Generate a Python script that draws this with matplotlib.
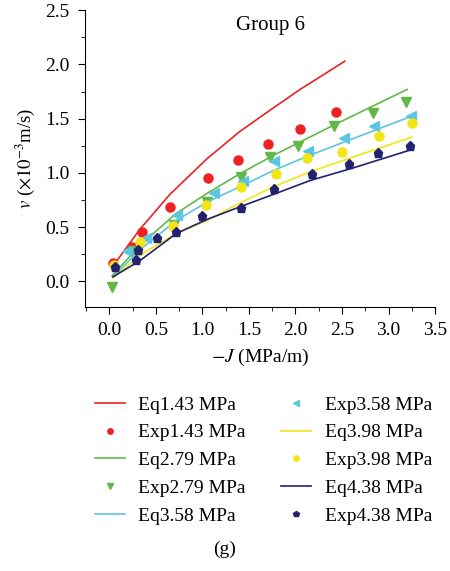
import numpy as np
import matplotlib.pyplot as plt
from matplotlib.ticker import MultipleLocator

plt.rcParams['font.family'] = ['Liberation Serif', 'DejaVu Serif']
plt.rcParams['mathtext.fontset'] = 'stix'

# model curves (Eq)
eq1_x = [0.04, 0.33, 0.65, 1.05, 1.40, 1.73, 2.05, 2.53]
eq1_y = [0.14, 0.48, 0.80, 1.13, 1.38, 1.58, 1.77, 2.03]
eq2_x = [0.03, 0.33, 0.71, 1.05, 1.40, 1.76, 2.41, 3.20]
eq2_y = [0.05, 0.33, 0.62, 0.81, 0.99, 1.16, 1.44, 1.77]
eq3_x = [0.04, 0.33, 0.72, 1.05, 1.40, 1.76, 2.12, 2.60, 3.27]
eq3_y = [0.04, 0.29, 0.56, 0.73, 0.87, 1.02, 1.15, 1.31, 1.53]
eq4_x = [0.04, 0.33, 0.72, 1.05, 1.40, 1.76, 2.16, 2.60, 3.25]
eq4_y = [0.03, 0.24, 0.44, 0.56, 0.72, 0.87, 1.01, 1.14, 1.33]
eq5_x = [0.04, 0.33, 0.72, 1.05, 1.40, 1.76, 2.16, 2.60, 3.23]
eq5_y = [0.04, 0.19, 0.44, 0.57, 0.685, 0.80, 0.93, 1.04, 1.21]

# experimental points
exp1_x = [0.04, 0.24, 0.35, 0.65, 1.06, 1.38, 1.70, 2.05, 2.44]
exp1_y = [0.17, 0.32, 0.45, 0.685, 0.95, 1.12, 1.265, 1.40, 1.565]
exp2_x = [0.03, 0.26, 0.69, 1.05, 1.42, 1.73, 2.03, 2.41, 2.83, 3.19]
exp2_y = [-0.05, 0.28, 0.515, 0.73, 0.96, 1.15, 1.25, 1.435, 1.55, 1.65]
exp3_x = [0.19, 0.39, 0.73, 1.13, 1.44, 1.77, 2.13, 2.52, 2.84, 3.24]
exp3_y = [0.28, 0.40, 0.61, 0.81, 0.92, 1.11, 1.20, 1.32, 1.43, 1.52]
exp4_x = [0.05, 0.33, 0.68, 1.04, 1.42, 1.79, 2.12, 2.50, 2.90, 3.25]
exp4_y = [0.145, 0.36, 0.51, 0.70, 0.87, 0.99, 1.14, 1.195, 1.34, 1.46]
exp5_x = [0.06, 0.29, 0.31, 0.51, 0.72, 1.00, 1.41, 1.77, 2.18, 2.57, 2.89, 3.23]
exp5_y = [0.13, 0.20, 0.29, 0.40, 0.45, 0.60, 0.68, 0.85, 0.99, 1.08, 1.185, 1.25]

labels = ['1.43', '2.79', '3.58', '3.98', '4.38']
colors = ['#ee2024', '#62b846', '#5cc6e0', '#f4e516', '#22226e']
markers = ['o', 'v', '<', 'o', 'p']

fig = plt.figure(figsize=(4.5, 5.71), dpi=100)
ax = fig.add_axes([0.189, 0.462, 0.778, 0.52])

eqs = [(eq1_x, eq1_y), (eq2_x, eq2_y), (eq3_x, eq3_y), (eq4_x, eq4_y), (eq5_x, eq5_y)]
exps = [(exp1_x, exp1_y), (exp2_x, exp2_y), (exp3_x, exp3_y), (exp4_x, exp4_y), (exp5_x, exp5_y)]

handles = []
for i in range(5):
    l, = ax.plot(eqs[i][0], eqs[i][1], color=colors[i], lw=1.2,
                 label='Eq' + labels[i] + ' MPa')
    m, = ax.plot(exps[i][0], exps[i][1], ls='none', marker=markers[i],
                 color=colors[i], markersize=6.5, label='Exp' + labels[i] + ' MPa')
    handles += [l, m]

ax.set_xlim(-0.26, 3.5)
ax.set_ylim(-0.24, 2.5)
ax.xaxis.set_major_locator(MultipleLocator(0.5))
ax.xaxis.set_minor_locator(MultipleLocator(0.25))
ax.yaxis.set_major_locator(MultipleLocator(0.5))
ax.yaxis.set_minor_locator(MultipleLocator(0.25))
ax.spines['top'].set_visible(False)
ax.spines['right'].set_visible(False)
ax.tick_params(labelsize=14, length=5, pad=6)
ax.tick_params(which='minor', length=3)

ax.set_xlabel('$-J$ (MPa/m)', fontsize=14, labelpad=5)
ax.set_ylabel('$v$ ($\\times 10^{-3}$m/s)', fontsize=13.5, labelpad=6)
ax.text(0.53, 0.95, 'Group 6', transform=ax.transAxes, ha='center', va='center',
        fontsize=15)

fig.legend(handles=handles, ncol=2, frameon=False, fontsize=14,
           loc='upper center', bbox_to_anchor=(0.585, 0.337), markerscale=0.6,
           handlelength=1.55, handletextpad=0.7, columnspacing=1.8,
           labelspacing=0.52)

fig.text(0.5, 0.03, '(g)', ha='center', fontsize=14)

fig.savefig('out.png', dpi=100)
